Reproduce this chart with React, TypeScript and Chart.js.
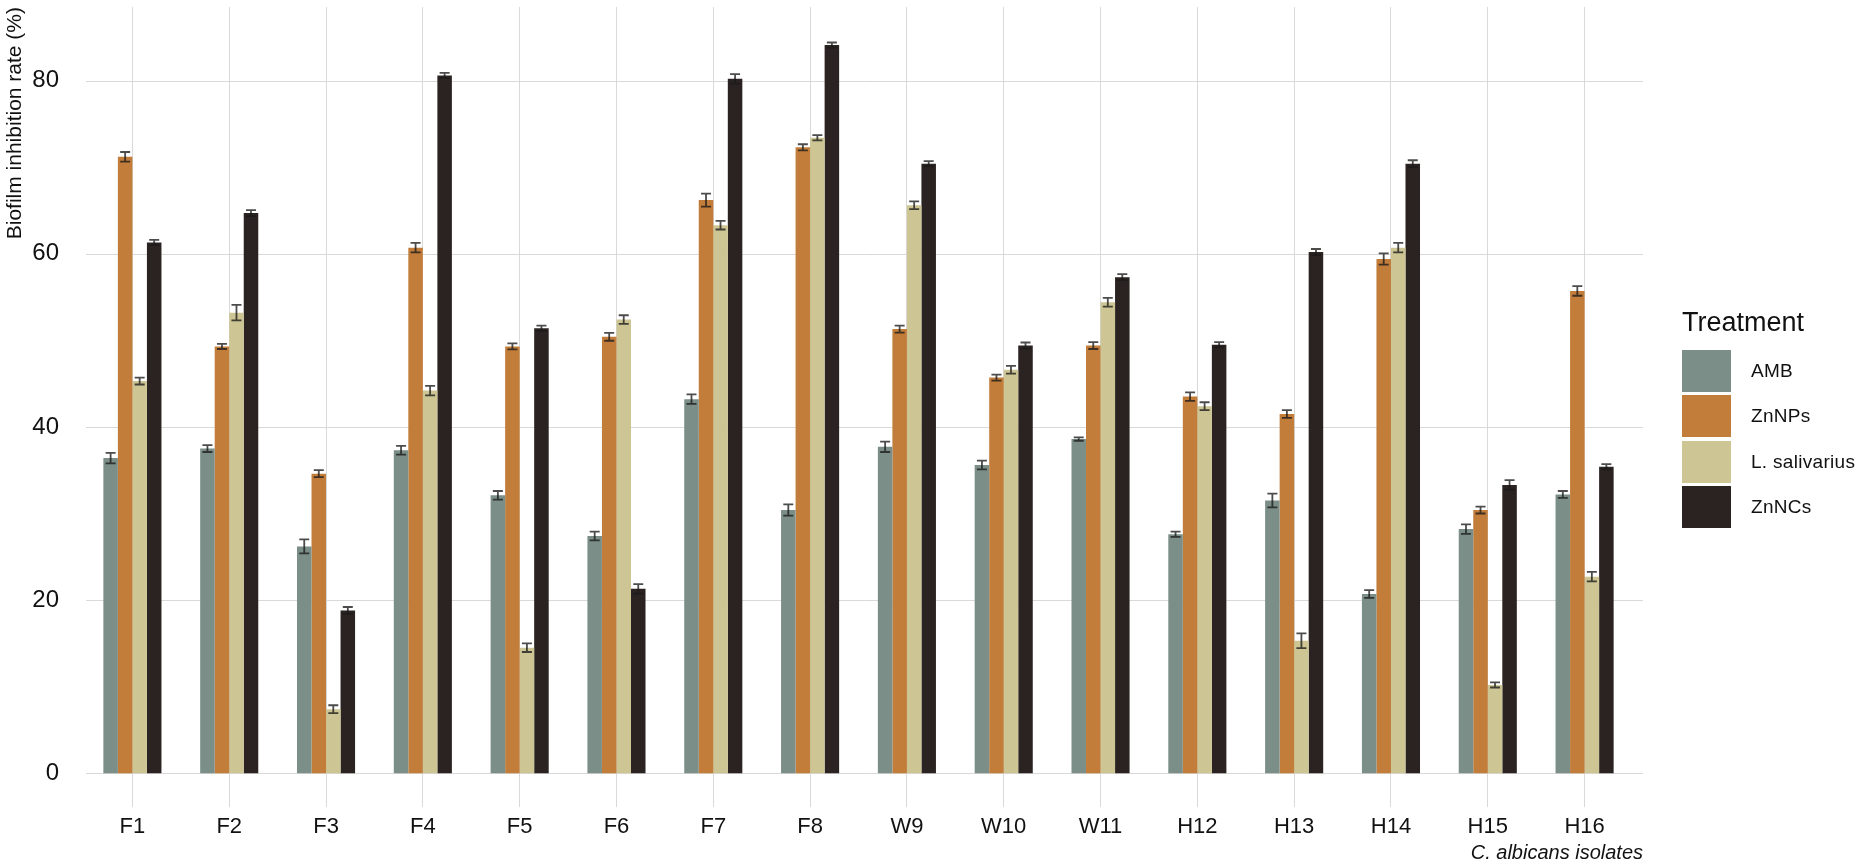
import { Chart, registerables } from "chart.js";
import { useEffect, useRef } from "react";

Chart.register(...registerables);

const isolates = ["F1", "F2", "F3", "F4", "F5", "F6", "F7", "F8", "W9", "W10", "W11", "H12", "H13", "H14", "H15", "H16"];
const treatments = ["AMB", "ZnNPs", "L. salivarius", "ZnNCs"];
const colors = ["#7b8e87", "#c27d3b", "#cdc593", "#2a2321"];

const amb = [36.4, 37.5, 26.2, 37.3, 32.1, 27.4, 43.2, 30.4, 37.7, 35.6, 38.6, 27.6, 31.5, 20.7, 28.2, 32.2];
const znNps = [71.2, 49.3, 34.6, 60.7, 49.3, 50.4, 66.2, 72.3, 51.3, 45.7, 49.4, 43.5, 41.5, 59.4, 30.4, 55.7];
const lSalivarius = [45.3, 53.2, 7.4, 44.2, 14.5, 52.4, 63.3, 73.4, 65.6, 46.6, 54.4, 42.4, 15.3, 60.7, 10.2, 22.7];
const znNcs = [61.3, 64.7, 18.8, 80.6, 51.4, 21.3, 80.2, 84.1, 70.4, 49.4, 57.3, 49.5, 60.2, 70.4, 33.3, 35.4];

const ambErr = [0.6, 0.4, 0.8, 0.5, 0.5, 0.5, 0.55, 0.65, 0.6, 0.5, 0.2, 0.3, 0.8, 0.45, 0.55, 0.4];
const znNpsErr = [0.55, 0.3, 0.4, 0.55, 0.35, 0.45, 0.75, 0.35, 0.4, 0.35, 0.4, 0.5, 0.45, 0.65, 0.4, 0.55];
const lSalErr = [0.4, 0.9, 0.45, 0.55, 0.5, 0.5, 0.5, 0.3, 0.45, 0.45, 0.5, 0.45, 0.85, 0.55, 0.3, 0.55];
const znNcsErr = [0.3, 0.35, 0.4, 0.3, 0.3, 0.55, 0.55, 0.3, 0.3, 0.35, 0.35, 0.3, 0.35, 0.4, 0.55, 0.3];

const yTicks = [0, 20, 40, 60, 80];

const seriesValues = [amb, znNps, lSalivarius, znNcs];
const seriesErrors = [ambErr, znNpsErr, lSalErr, znNcsErr];

const FONT = "'Liberation Sans', Arial, sans-serif";
const GRID = "#d9d9d9";
const PANEL_EXTRA_LEFT = 2;
const PANEL_EXTRA_RIGHT = 10;

// horizontal grid lines of the panel (slightly wider than the category area, like ggplot)
const panelGrid = {
  id: "panelGrid",
  beforeDatasetsDraw(chart: Chart) {
    const { ctx, chartArea } = chart;
    const y = chart.scales.y;
    ctx.save();
    ctx.strokeStyle = GRID;
    ctx.lineWidth = 1;
    yTicks.forEach((v) => {
      const py = Math.round(y.getPixelForValue(v)) + 0.5;
      ctx.beginPath();
      ctx.moveTo(chartArea.left + PANEL_EXTRA_LEFT, py);
      ctx.lineTo(chartArea.right + PANEL_EXTRA_RIGHT, py);
      ctx.stroke();
    });
    ctx.restore();
  },
  afterDraw(chart: Chart) {
    const { ctx, chartArea } = chart;
    ctx.save();
    ctx.fillStyle = "#111";
    ctx.font = `italic 20px ${FONT}`;
    ctx.textAlign = "right";
    ctx.textBaseline = "middle";
    ctx.fillText("C. albicans isolates", chartArea.right + PANEL_EXTRA_RIGHT, 853);
    ctx.restore();
  },
};

// ggplot-like error bars drawn on top of each bar
const errorBars = {
  id: "errorBars",
  afterDatasetsDraw(chart: Chart) {
    const ctx = chart.ctx;
    const y = chart.scales.y;
    ctx.save();
    ctx.strokeStyle = "rgba(25,25,25,0.78)";
    ctx.lineWidth = 1.8;
    seriesErrors.forEach((errs, i) => {
      const meta = chart.getDatasetMeta(i);
      meta.data.forEach((bar: any, j: number) => {
        const v = seriesValues[i][j];
        const top = y.getPixelForValue(v + errs[j]);
        const bot = y.getPixelForValue(v - errs[j]);
        const half = 5;
        ctx.beginPath();
        ctx.moveTo(bar.x, top);
        ctx.lineTo(bar.x, bot);
        ctx.moveTo(bar.x - half, top);
        ctx.lineTo(bar.x + half, top);
        ctx.moveTo(bar.x - half, bot);
        ctx.lineTo(bar.x + half, bot);
        ctx.stroke();
      });
    });
    ctx.restore();
  },
};

export default function App() {
  const chartRef = useRef<HTMLCanvasElement>(null);
  const chartInstance = useRef<Chart | null>(null);

  useEffect(() => {
    document.body.style.margin = "0";
    if (!chartRef.current) return;
    const ctx = chartRef.current.getContext("2d");
    if (!ctx) return;
    if (chartInstance.current) chartInstance.current.destroy();

    chartInstance.current = new Chart(ctx, {
      type: "bar",
      data: {
        labels: isolates,
        datasets: treatments.map((t, i) => ({
          label: t,
          data: seriesValues[i],
          backgroundColor: colors[i],
          borderWidth: 0,
          categoryPercentage: 0.6,
          barPercentage: 1.0,
        })),
      },
      options: {
        responsive: false,
        animation: false,
        layout: { padding: { left: 0, top: 7, right: 227, bottom: 0 } },
        plugins: {
          legend: { display: false },
          tooltip: { enabled: false },
        },
        scales: {
          x: {
            offset: true,
            grid: { offset: false, color: GRID, lineWidth: 1, drawTicks: false },
            border: { display: false },
            ticks: { color: "#111", font: { family: FONT, size: 22 }, padding: 7 },
            afterFit: (axis: any) => {
              axis.height = 61;
            },
          },
          y: {
            min: -3.9,
            max: 88.5,
            afterBuildTicks: (axis: any) => {
              axis.ticks = yTicks.map((v) => ({ value: v }));
            },
            grid: { display: false },
            border: { display: false },
            ticks: { color: "#111", font: { family: FONT, size: 24 }, padding: 17 },
            title: {
              display: true,
              text: "Biofilm inhibition rate (%)",
              align: "end",
              color: "#111",
              font: { family: FONT, size: 21 },
              padding: { top: 3, bottom: 0 },
            },
            afterFit: (axis: any) => {
              axis.width = 84;
              axis.paddingTop = 0;
              axis.paddingBottom = 0;
            },
          },
        },
      },
      plugins: [panelGrid, errorBars],
    });

    return () => {
      if (chartInstance.current) {
        chartInstance.current.destroy();
        chartInstance.current = null;
      }
    };
  }, []);

  return (
    <div style={{ position: "relative", width: 1860, height: 868, background: "#fff", overflow: "hidden" }}>
      <canvas ref={chartRef} width={1860} height={868}></canvas>
      <div
        style={{
          position: "absolute",
          left: 1682,
          top: 305,
          width: 178,
          fontFamily: FONT,
          color: "#111",
          whiteSpace: "nowrap",
        }}
      >
        <div style={{ fontSize: 27, lineHeight: "34px", marginBottom: 9 }}>Treatment</div>
        {treatments.map((t, i) => (
          <div key={t} style={{ display: "flex", alignItems: "center", height: 45.5 }}>
            <div style={{ width: 49, height: 42, background: colors[i], flex: "none" }}></div>
            <div style={{ fontSize: 19, marginLeft: 20, letterSpacing: 0.3 }}>{t}</div>
          </div>
        ))}
      </div>
    </div>
  );
}
